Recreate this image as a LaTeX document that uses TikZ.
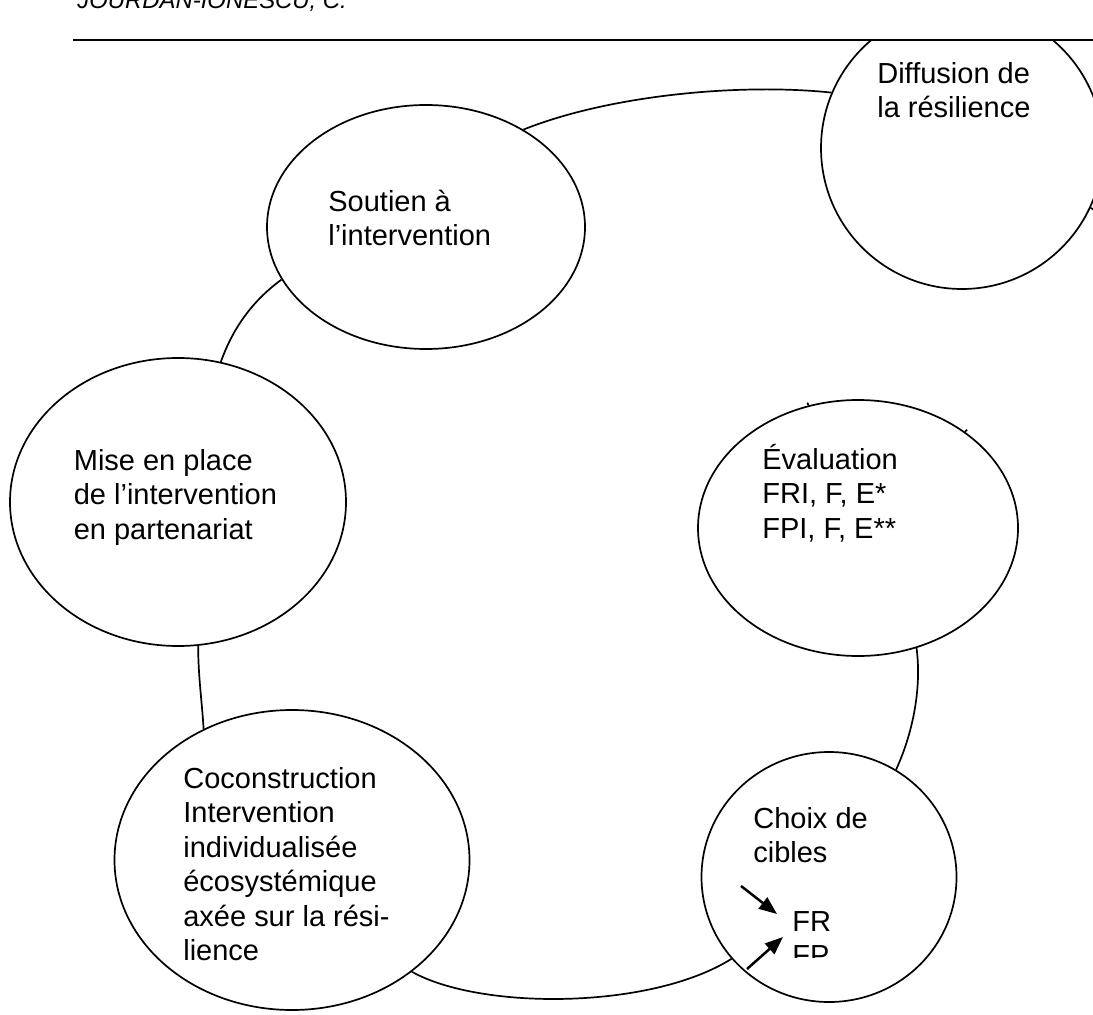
\documentclass[tikz,border=0pt]{standalone}
\usepackage{fontspec}
\setmainfont{Liberation Sans}
\usepackage{tikz}
\usetikzlibrary{shapes.geometric, arrows.meta}

\begin{document}
\begin{tikzpicture}[
    x=0.2mm, y=-0.2mm,
    stage/.style={draw, ellipse, line width=0.34mm, inner sep=0pt},
    caption/.style={anchor=base west, align=left, inner sep=0pt, font=\fontsize{16.5}{19.6}\selectfont},
    ring/.style={line width=0.34mm},
    pointer/.style={-{Triangle[length=3.6mm, width=2.8mm]}, line width=0.5mm}
]
    \useasboundingbox (0,0) rectangle (1093,1015);

    % Header
    \node[anchor=base west, inner sep=0pt, font=\fontsize{13.6}{16}\selectfont\itshape] (author) at (77,9) {JOURDAN-IONESCU, C.};
    \draw[line width=0.45mm] (73,40) -- (1093,40);

    % Stages
    \begin{scope}
        \clip (0,41) rectangle (1093,1015);
        \node[stage, minimum width=56.4mm, minimum height=56.4mm] (diff) at (962,148) {};
    \end{scope}
    \node[stage, minimum width=63.6mm, minimum height=48.8mm] (sout) at (426,227) {};
    \node[stage, minimum width=67.2mm, minimum height=57.6mm] (mise) at (178,502) {};
    \node[stage, minimum width=64mm, minimum height=51.2mm] (eval) at (858,528) {};
    \node[stage, minimum width=71mm, minimum height=60mm] (coco) at (292,860) {};
    \node[stage, minimum width=51mm, minimum height=50mm] (choix) at (829,877) {};

    % Texts (placed at the baseline of their last line)
    \node[caption] (diffText) at (877,117.5) {Diffusion de\\la résilience};
    \node[caption] (soutText) at (328,245.5) {Soutien à\\l’intervention};
    \node[caption] (miseText) at (73.5,539) {Mise en place\\de l’intervention\\en partenariat};
    \node[caption] (evalText) at (762,538) {Évaluation\\FRI, F, E*\\FPI, F, E**};
    \node[caption] (cocoText) at (183,960.5) {Coconstruction\\Intervention\\individualisée\\écosystémique\\axée sur la rési-\\lience};
    \node[caption] (choixText) at (753,862.5) {Choix de\\cibles};
    \node[caption] (fr) at (792,931) {FR};
    \begin{scope}
        \clip (700,900) rectangle (960,957);
        \node[caption] (fp) at (792,965) {FP};
    \end{scope}

    % Ring
    \draw[ring] (sout.45) .. controls (610,95) and (740,83) .. (diff.157);
    \draw[ring] (sout.200) .. controls (255,299) and (234,325) .. (mise.73);
    \draw[ring] (mise.278) .. controls (198,674) and (202,702) .. (coco.124);
    \draw[ring] (coco.317) .. controls (480,1010) and (650,1010) .. (choix.220);
    \draw[ring] (eval.296) .. controls (922,690) and (912,735) .. (choix.58);

    % Ticks
    \draw[ring] (eval.112) -- ++(112:0.6mm);
    \draw[ring] (eval.42) -- ++(42:0.6mm);
    \draw[ring] (diff.335) -- ++(335:0.6mm);

    % Pointers
    \coordinate (tail1) at (741,886);
    \coordinate (tip1) at (777,914);
    \coordinate (tail2) at (747,969);
    \coordinate (tip2) at (783,937);
    \draw[pointer] (tail1) -- (tip1);
    \draw[pointer] (tail2) -- (tip2);
\end{tikzpicture}
\end{document}
